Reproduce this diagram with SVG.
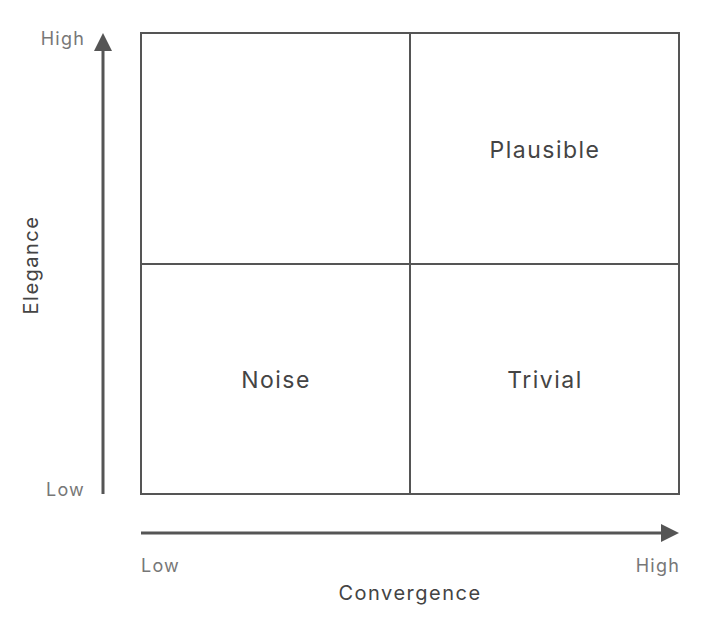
<svg xmlns="http://www.w3.org/2000/svg" width="712" height="644" viewBox="0 0 712 644">
<style>
.grid{fill:none;stroke:#555;stroke-width:2}
.axis{stroke:#555;stroke-width:3;fill:none}
.q{font-family:Inter,"Liberation Sans",sans-serif;font-size:23px;letter-spacing:1.5px;fill:#444;text-anchor:middle}
.t{font-family:Inter,"Liberation Sans",sans-serif;font-size:18px;letter-spacing:1.2px;fill:#777}
.ttl{font-family:Inter,"Liberation Sans",sans-serif;font-size:20px;letter-spacing:1.5px;fill:#444;text-anchor:middle}
</style>
<defs>
<marker id="ah" markerWidth="6" markerHeight="6" refX="1" refY="3" orient="auto" markerUnits="strokeWidth">
<path d="M0,0 L6,3 L0,6 Z" fill="#555"/>
</marker>
</defs>
<rect width="712" height="644" fill="#fff"/>
<g id="grid">
<rect class="grid" x="141" y="33" width="538" height="461"/>
<line class="grid" x1="410" y1="33" x2="410" y2="494"/>
<line class="grid" x1="141" y1="264" x2="679" y2="264"/>
</g>
<g id="connectors">
<line class="axis" x1="103" y1="494" x2="103" y2="48" marker-end="url(#ah)"/>
<line class="axis" x1="141" y1="533" x2="664" y2="533" marker-end="url(#ah)"/>
</g>
<g id="plausible"><text class="q" x="545" y="158">Plausible</text></g>
<g id="noise"><text class="q" x="276" y="388">Noise</text></g>
<g id="trivial"><text class="q" x="545" y="388">Trivial</text></g>
<g id="labels">
<text class="t" x="85" y="45" text-anchor="end">High</text>
<text class="t" x="85" y="496" text-anchor="end">Low</text>
<text class="t" x="141" y="572">Low</text>
<text class="t" x="680" y="572" text-anchor="end">High</text>
<text class="ttl" x="410" y="600">Convergence</text>
<text class="ttl" transform="translate(38,265) rotate(-90)">Elegance</text>
</g>
</svg>
